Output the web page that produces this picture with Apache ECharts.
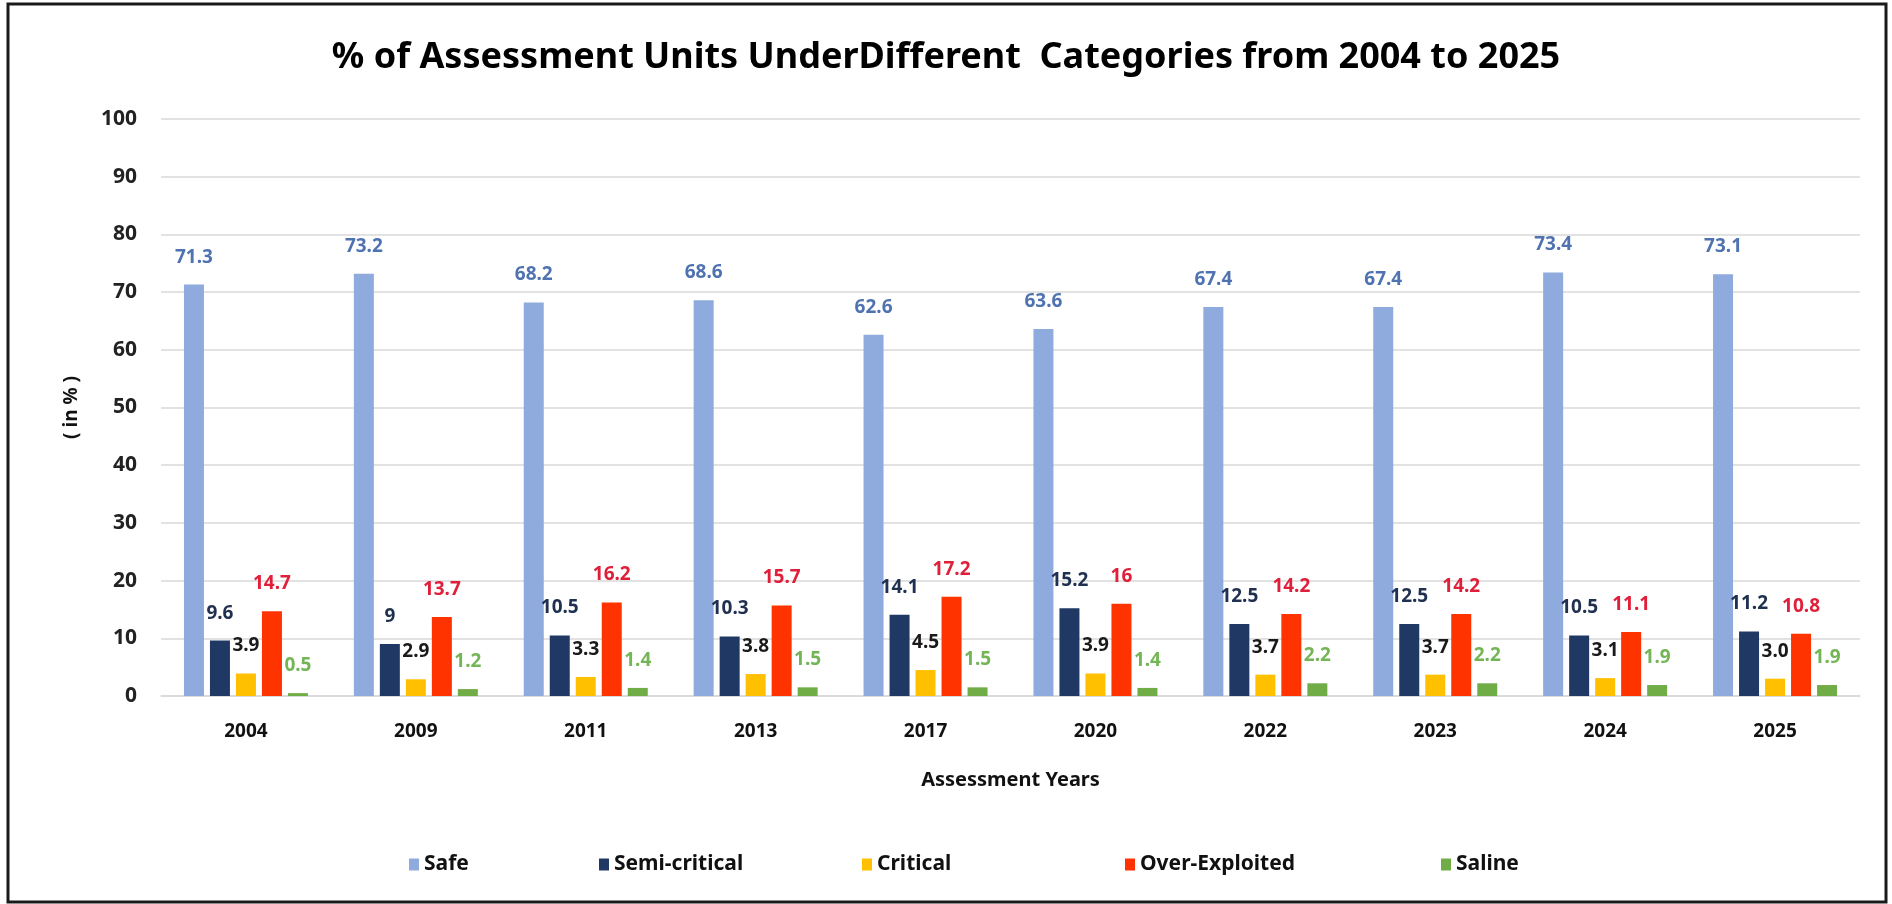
<!DOCTYPE html>
<html>
<head>
<meta charset="utf-8">
<script src="https://cdn.jsdelivr.net/npm/echarts@6/dist/echarts.min.js"></script>
<style>
  html, body { margin: 0; padding: 0; background: #fff; }
  #chart { width: 1892px; height: 904px; }
</style>
</head>
<body>
<div id="chart"></div>
<script>
var years = ['2004', '2009', '2011', '2013', '2017', '2020', '2022', '2023', '2024', '2025'];
var safe = [71.3, 73.2, 68.2, 68.6, 62.6, 63.6, 67.4, 67.4, 73.4, 73.1];
var semiCritical = [9.6, 9, 10.5, 10.3, 14.1, 15.2, 12.5, 12.5, 10.5, 11.2];
var critical = [3.9, 2.9, 3.3, 3.8, 4.5, 3.9, 3.7, 3.7, 3.1, 3.0];
var overExploited = [14.7, 13.7, 16.2, 15.7, 17.2, 16, 14.2, 14.2, 11.1, 10.8];
var saline = [0.5, 1.2, 1.4, 1.5, 1.5, 1.4, 2.2, 2.2, 1.9, 1.9];

var font = 'Noto Sans';

function barSeries(name, data, color, labelColor, fixed) {
    return {
        name: name,
        type: 'bar',
        data: data,
        barWidth: 20,
        barGap: '30%',
        itemStyle: {color: color},
        label: {
            show: true,
            position: 'top',
            distance: 18,
            color: labelColor,
            fontFamily: font,
            fontWeight: 'bold',
            fontSize: 19,
            formatter: fixed ? function (p) { return p.value.toFixed(1); } : '{c}'
        }
    };
}

function legendAt(name, left) {
    return {
        data: [{name: name, icon: 'rect'}],
        left: left,
        top: 849,
        itemWidth: 10,
        itemHeight: 12,
        textStyle: {color: '#111', fontFamily: font, fontWeight: 'bold', fontSize: 21}
    };
}

var myChart = echarts.init(document.getElementById('chart'));
var option = {
    animation: false,
    backgroundColor: '#fff',
    title: {
        text: '% of Assessment Units UnderDifferent  Categories from 2004 to 2025',
        left: 'center',
        top: 35,
        textStyle: {color: '#000', fontFamily: font, fontWeight: 'bold', fontSize: 36}
    },
    graphic: [{
        type: 'rect',
        shape: {x: 8, y: 4, width: 1878, height: 898},
        style: {fill: 'none', stroke: '#1a1a1a', lineWidth: 3},
        z: 100
    }],
    legend: [
        legendAt('Safe', 404),
        legendAt('Semi-critical', 594),
        legendAt('Critical', 857),
        legendAt('Over-Exploited', 1120),
        legendAt('Saline', 1436)
    ],
    grid: {left: 161, right: 32, top: 119, bottom: 208},
    xAxis: {
        type: 'category',
        data: years,
        name: 'Assessment Years',
        nameLocation: 'middle',
        nameGap: 74,
        nameTextStyle: {color: '#111', fontFamily: font, fontWeight: 'bold', fontSize: 20},
        axisTick: {show: false},
        axisLine: {lineStyle: {color: '#d9d9d9', width: 1.5}},
        axisLabel: {color: '#111', fontFamily: font, fontWeight: 'bold', fontSize: 19, margin: 26}
    },
    yAxis: {
        type: 'value',
        min: 0,
        max: 100,
        interval: 10,
        name: '( in % )',
        nameLocation: 'middle',
        nameRotate: 90,
        nameGap: 80,
        nameTextStyle: {color: '#111', fontFamily: font, fontWeight: 'bold', fontSize: 19},
        axisLine: {show: false},
        axisTick: {show: false},
        axisLabel: {color: '#222', fontFamily: font, fontWeight: 'bold', fontSize: 21, margin: 24},
        splitLine: {lineStyle: {color: '#d9d9d9', width: 1.5}}
    },
    series: [
        barSeries('Safe', safe, '#8faadc', '#4f72b0', false),
        barSeries('Semi-critical', semiCritical, '#203864', '#1f3050', false),
        barSeries('Critical', critical, '#ffc000', '#1a1a1a', true),
        barSeries('Over-Exploited', overExploited, '#ff3300', '#e0203a', false),
        barSeries('Saline', saline, '#70ad47', '#74b556', false)
    ]
};
myChart.setOption(option);
</script>
</body>
</html>
